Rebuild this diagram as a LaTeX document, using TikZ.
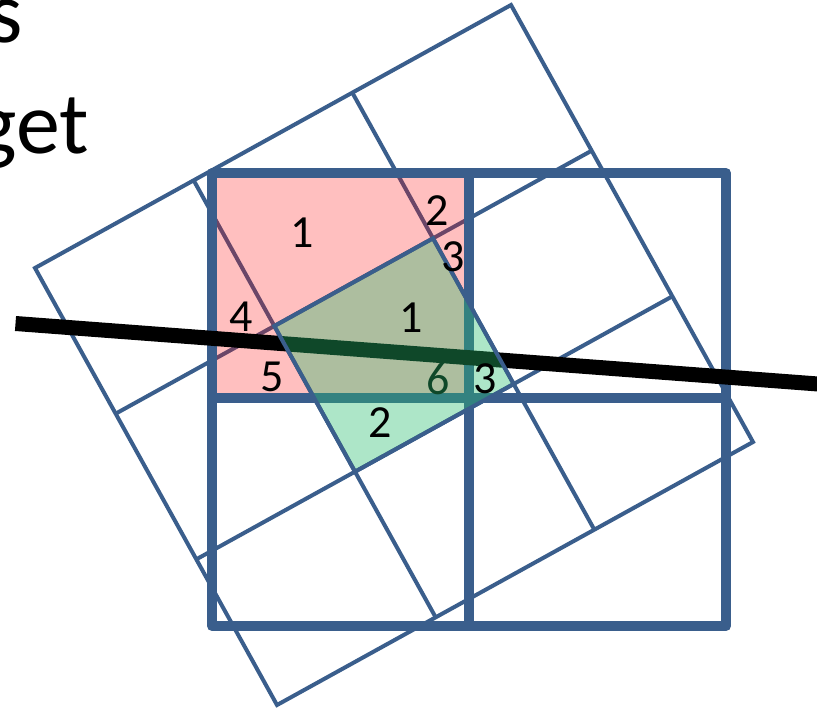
\documentclass[tikz,border=0pt]{standalone}
\usepackage{fontspec}
\setmainfont{Carlito}
\usetikzlibrary{calc}
\definecolor{gridblue}{RGB}{58,94,140}
\definecolor{cellred}{RGB}{255,0,0}
\definecolor{cellgreen}{RGB}{40,190,110}
\begin{document}
\begin{tikzpicture}[x=1pt,y=-1pt,
  thinline/.style={draw=gridblue,line width=4pt},
  thickline/.style={draw=gridblue,line width=10pt,line join=round},
  blackline/.style={draw=black,line width=15pt},
  digit/.style={inner sep=0pt,font=\fontsize{46}{46}\selectfont},
  bigtext/.style={inner sep=0pt,font=\fontsize{88}{88}\selectfont,anchor=base east}]
\useasboundingbox (0,0) rectangle (817,709);
% rotated 3x3 grid points
\foreach \i in {0,...,3}{\foreach \j in {0,...,3}{
  \coordinate (p\i\j) at ({35+\i*476/3+\j*242/3},{268-\i*263/3+\j*437/3});}}
% thick grid points
\coordinate (g00) at (212,173); \coordinate (g10) at (469,173); \coordinate (g20) at (726,173);
\coordinate (g01) at (212,398); \coordinate (g11) at (469,398); \coordinate (g21) at (726,398);
\coordinate (g02) at (212,626); \coordinate (g12) at (469,626); \coordinate (g22) at (726,626);
% thin rotated grid
\draw[thinline] (p00) -- (p30) -- (p33) -- (p03) -- cycle;
\draw[thinline] (p10) -- (p13) (p20) -- (p23) (p01) -- (p31) (p02) -- (p32);
% red cell
\fill[cellred,opacity=0.25] (g00) rectangle (g11);
% thick grid
\draw[thickline] (g00) rectangle (g22);
\draw[thickline] (g10) -- (g12) (g01) -- (g21);
% black line
\coordinate (b1) at (15.5,323.5);
\coordinate (b2) at (830,384.9);
\draw[blackline] (b1) -- (b2);
\node[digit] (d6) at (438,379) {6};
% green cell
\fill[cellgreen,opacity=0.38] (p11) -- (p21) -- (p22) -- (p12) -- cycle;
\draw[thinline] (p11) -- (p21) -- (p22) -- (p12) -- cycle;
% labels
\node[digit] (r1) at (301.7,232.5) {1};
\node[digit] (r2) at (437.5,211) {2};
\node[digit] (r3) at (453,256.7) {3};
\node[digit] (r4) at (241,317) {4};
\node[digit] (g1) at (411,318) {1};
\node[digit] (r5) at (271.7,376.7) {5};
\node[digit] (g3) at (485,379) {3};
\node[digit] (g2) at (380,423) {2};
\node[bigtext] (ts) at (23,43) {s};
\node[bigtext] (tg) at (89,153) {get};
\end{tikzpicture}
\end{document}
